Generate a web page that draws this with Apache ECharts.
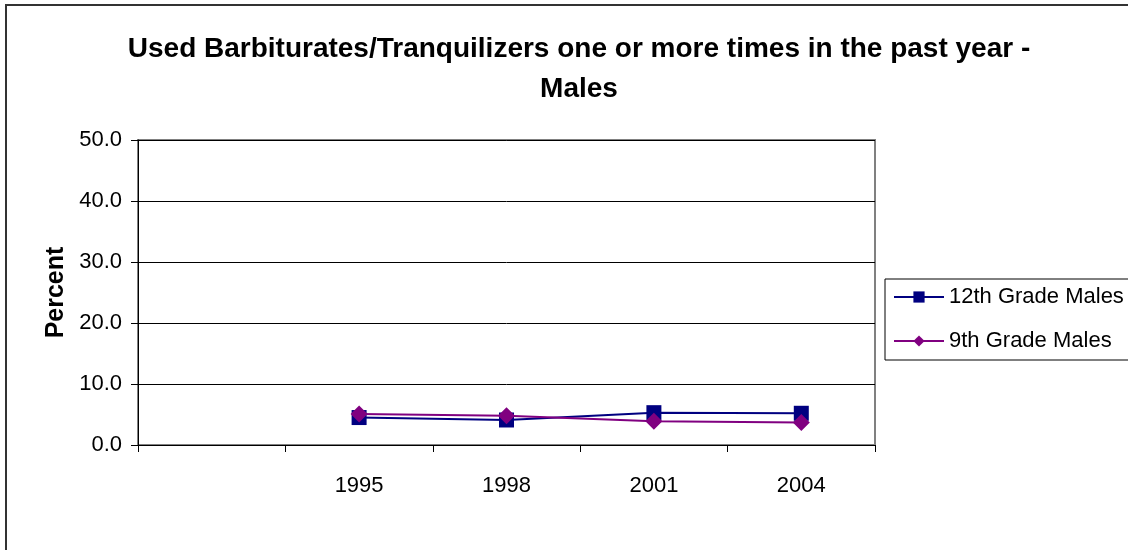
<!DOCTYPE html>
<html>
<head>
<meta charset="utf-8">
<script src="https://cdn.jsdelivr.net/npm/echarts@6/dist/echarts.min.js"></script>
<style>
  html, body { margin: 0; padding: 0; background: #fff; }
  #chart { width: 1128px; height: 550px; }
</style>
</head>
<body>
<div id="chart"></div>
<script>
const years = ['', '1995', '1998', '2001', '2004'];
const grade12Males = [null, 4.5, 4.1, 5.3, 5.2];
const grade9Males = [null, 5.1, 4.8, 3.9, 3.7];
const yTicks = [0, 10, 20, 30, 40, 50];

const font = '"Liberation Sans", Arial, sans-serif';
const chart = echarts.init(document.getElementById('chart'));

chart.setOption({
  animation: false,
  backgroundColor: '#fff',
  title: {
    text: 'Used Barbiturates/Tranquilizers one or more times in the past year -\nMales',
    left: 574,
    top: 24,
    textAlign: 'center',
    textStyle: { fontFamily: font, fontSize: 28, fontWeight: 'bold', color: '#000', lineHeight: 40 }
  },
  legend: {
    orient: 'vertical',
    left: 885,
    top: 279,
    padding: [7, 12, 8, 8],
    borderColor: '#000',
    borderWidth: 1,
    itemWidth: 50,
    itemHeight: 14,
    itemGap: 22,
    textStyle: { fontFamily: font, fontSize: 22, color: '#000' },
    data: ['12th Grade Males', '9th Grade Males']
  },
  grid: { left: 138, right: 253, top: 140, bottom: 105, show: true, borderColor: '#808080', borderWidth: 2 },
  xAxis: {
    type: 'category',
    data: years,
    boundaryGap: true,
    axisLine: { lineStyle: { color: '#000', width: 1 } },
    axisTick: { show: true, length: 7, interval: 0, lineStyle: { color: '#000' } },
    axisLabel: { interval: 0, margin: 30, fontFamily: font, fontSize: 22, color: '#000' }
  },
  yAxis: {
    type: 'value',
    min: yTicks[0],
    max: yTicks[yTicks.length - 1],
    interval: 10,
    name: 'Percent',
    nameLocation: 'middle',
    nameGap: 67,
    nameTextStyle: { fontFamily: font, fontSize: 25, fontWeight: 'bold', color: '#000' },
    axisLine: { show: true, lineStyle: { color: '#000', width: 1 } },
    axisTick: { show: true, length: 7, lineStyle: { color: '#000' } },
    axisLabel: { margin: 16, fontFamily: font, fontSize: 22, color: '#000', formatter: v => v.toFixed(1) },
    splitLine: { lineStyle: { color: '#000', width: 1 } }
  },
  series: [
    {
      name: '12th Grade Males',
      type: 'line',
      data: grade12Males,
      symbol: 'rect',
      symbolSize: 15,
      color: '#000080',
      lineStyle: { width: 2, color: '#000080' },
      itemStyle: { color: '#000080' }
    },
    {
      name: '9th Grade Males',
      type: 'line',
      data: grade9Males,
      symbol: 'diamond',
      symbolSize: 17,
      color: '#800080',
      lineStyle: { width: 2, color: '#800080' },
      itemStyle: { color: '#800080' }
    }
  ],
  graphic: [
    {
      type: 'rect',
      shape: { x: 6, y: 5, width: 1200, height: 600 },
      style: { fill: 'none', stroke: '#333', lineWidth: 2 },
      silent: true
    }
  ]
});
</script>
</body>
</html>
